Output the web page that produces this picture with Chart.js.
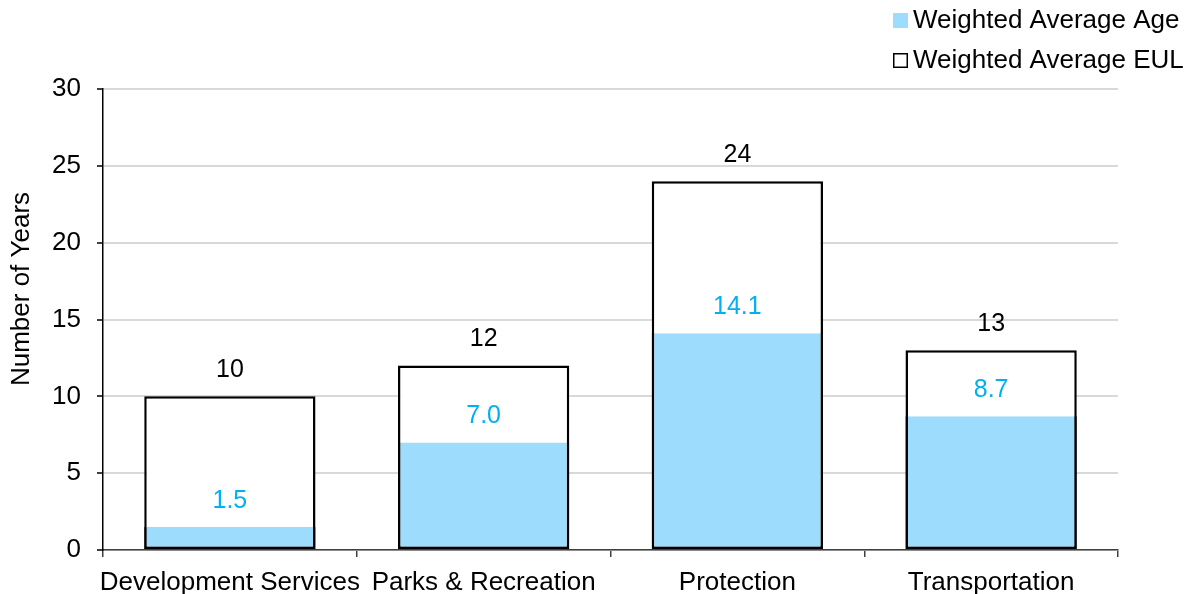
<!DOCTYPE html>
<html>
<head>
<meta charset="utf-8">
<script src="https://cdn.jsdelivr.net/npm/chart.js@4.4.1/dist/chart.umd.min.js"></script>
<style>
  html, body { margin: 0; padding: 0; background: #fff; }
  #wrap { width: 1194px; height: 594px; position: relative; }
</style>
</head>
<body>
<div id="wrap"><canvas id="chart" width="1194" height="594"></canvas></div>
<script>
const categories = ['Development Services', 'Parks & Recreation', 'Protection', 'Transportation'];
const weightedAge = [1.5, 7.0, 14.1, 8.7];
const weightedEUL = [10, 12, 24, 13];
const yTicks = [0, 5, 10, 15, 20, 25, 30];

const FONT = '"Liberation Sans", Arial, sans-serif';
const AGE_FILL = '#9ddcfd';
const AGE_TEXT = '#00b0f0';

// Value labels above each bar, plus the y-axis title and the two-row legend
const annotate = {
  id: 'annotate',
  afterDatasetsDraw(chart) {
    const ctx = chart.ctx;
    ctx.save();
    ctx.textAlign = 'center';
    ctx.textBaseline = 'middle';
    ctx.font = '25px ' + FONT;
    chart.data.datasets.forEach((ds, i) => {
      const meta = chart.getDatasetMeta(i);
      meta.data.forEach((bar, j) => {
        const v = ds.data[j];
        ctx.fillStyle = ds.labelColor;
        ctx.fillText(ds.labelFormat(v), bar.x, bar.y - 26);
      });
    });
    ctx.restore();
  },
  afterDraw(chart) {
    const ctx = chart.ctx;
    ctx.save();
    // y-axis title
    ctx.translate(22, 289);
    ctx.rotate(-Math.PI / 2);
    ctx.textAlign = 'center';
    ctx.textBaseline = 'middle';
    ctx.fillStyle = '#000';
    ctx.font = '26px ' + FONT;
    ctx.fillText('Number of Years', 0, 0);
    ctx.restore();

    // legend
    ctx.save();
    ctx.font = '26px ' + FONT;
    ctx.textBaseline = 'middle';
    ctx.textAlign = 'left';
    const rows = [
      { ds: chart.data.datasets[0], y: 20 },
      { ds: chart.data.datasets[1], y: 60 }
    ];
    rows.forEach(r => {
      if (r.ds.legendBox === 'filled') {
        ctx.fillStyle = r.ds.backgroundColor;
        ctx.fillRect(893, r.y - 7, 15, 15);
      } else {
        ctx.fillStyle = '#fff';
        ctx.fillRect(893, r.y - 7, 14, 14);
        ctx.strokeStyle = '#000';
        ctx.lineWidth = 1.5;
        ctx.strokeRect(893.75, r.y - 6.25, 13.5, 13.5);
      }
      ctx.fillStyle = '#000';
      ctx.fillText(r.ds.label, 913, r.y + 1);
    });
    ctx.restore();
  }
};

new Chart(document.getElementById('chart'), {
  type: 'bar',
  data: {
    labels: categories,
    datasets: [
      {
        label: 'Weighted Average Age',
        data: weightedAge,
        backgroundColor: AGE_FILL,
        borderColor: '#000',
        borderWidth: { left: 2.5, right: 2.5, bottom: 2.5, top: 0 },
        borderSkipped: false,
        grouped: false,
        order: 0,
        categoryPercentage: 1,
        barPercentage: 0.675,
        labelColor: AGE_TEXT,
        labelFormat: v => v.toFixed(1),
        legendBox: 'filled'
      },
      {
        label: 'Weighted Average EUL',
        data: weightedEUL,
        backgroundColor: '#fff',
        borderColor: '#000',
        borderWidth: 2.5,
        borderSkipped: false,
        grouped: false,
        order: 1,
        categoryPercentage: 1,
        barPercentage: 0.675,
        labelColor: '#000',
        labelFormat: v => String(Math.round(v)),
        legendBox: 'outline'
      }
    ]
  },
  options: {
    responsive: false,
    animation: false,
    layout: { padding: { top: 89, right: 76, left: 0, bottom: 0 } },
    plugins: {
      legend: { display: false },
      tooltip: { enabled: false }
    },
    scales: {
      x: {
        offset: true,
        grid: {
          offset: true,
          drawOnChartArea: false,
          drawTicks: true,
          tickLength: 7,
          color: '#404040',
          lineWidth: 1.5
        },
        border: { display: true, color: '#404040', width: 1.5 },
        ticks: {
          autoSkip: false,
          maxRotation: 0,
          minRotation: 0,
          color: '#000',
          font: { family: FONT, size: 26 },
          padding: 10
        },
        afterFit(scale) { scale.height = 44; }
      },
      y: {
        min: 0,
        max: 30,
        afterBuildTicks(scale) { scale.ticks = yTicks.map(v => ({ value: v })); },
        grid: {
          color: '#d9d9d9',
          lineWidth: 2,
          drawTicks: true,
          tickLength: 6,
          tickColor: '#000',
          tickWidth: 1.5
        },
        border: { display: true, color: '#000', width: 1.5 },
        ticks: {
          color: '#000',
          font: { family: FONT, size: 26 },
          padding: 16
        },
        afterFit(scale) { scale.width = 103; }
      }
    }
  },
  plugins: [annotate]
});
</script>
</body>
</html>
